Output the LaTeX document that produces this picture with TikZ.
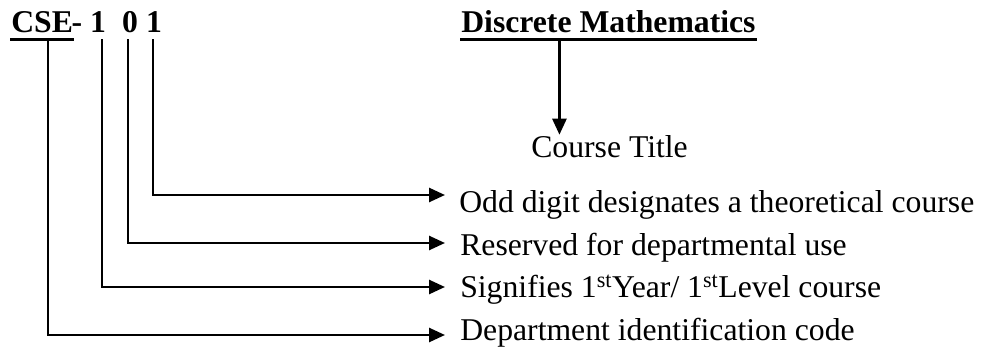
\documentclass[tikz,border=0pt]{standalone}
\usepackage{fontspec}
\setmainfont{Liberation Serif}
\usetikzlibrary{arrows.meta}

\tikzset{
  txt/.style={font=\fontsize{31.7}{38}\selectfont, inner sep=0pt, anchor=base west},
  code/.style={font=\fontsize{31.7}{38}\selectfont\bfseries, inner sep=0pt, text depth=5pt, anchor=base},
  uline/.style={line width=3pt},
}

\begin{document}
\begin{tikzpicture}[x=1pt, y=-1pt, >={Triangle[length=16pt,width=14pt]}, line width=2.6pt]
        \useasboundingbox (0,0) rectangle (981,347);

        % course code and title
        \node[code, anchor=base west] (cse) at (10,33) {CSE};
        \node[code] (hyph) at (77,33) {-};
        \node[code] (dyear) at (98,33) {1};
        \node[code] (dres) at (130,33) {0};
        \node[code] (dodd) at (154,33) {1};
        \node[code, anchor=base west] (title) at (460,33) {Discrete Mathematics};
        \draw[uline] (cse.south west) -- (cse.south east);
        \draw[uline] (title.south west) -- (title.south east);

        % meanings
        \node[txt] (ctitle) at (530,158) {Course Title};
        \node[txt] (lodd) at (458,213) {Odd digit designates a theoretical course};
        \node[txt] (lres) at (459,255) {Reserved for departmental use};
        \node[txt] (lyear) at (459,297) {Signifies 1\textsuperscript{st}Year/ 1\textsuperscript{st}Level course};
        \node[txt] (ldept) at (459,340) {Department identification code};

        \coordinate (tipodd) at (445,195);
        \coordinate (tipres) at (445,243);
        \coordinate (tipyear) at (445,287);
        \coordinate (tipdept) at (445,335);

        \draw[->] ([xshift=-49pt]title.south) -- ([xshift=-49pt]title.south |- ctitle.north);
        \draw[->] ([xshift=-1pt]dodd.south) |- (tipodd);
        \draw[->] ([xshift=-2pt]dres.south) |- (tipres);
        \draw[->] ([xshift=4pt]dyear.south) |- (tipyear);
        \draw[->] ([xshift=6pt]cse.south) |- (tipdept);
\end{tikzpicture}
\end{document}
